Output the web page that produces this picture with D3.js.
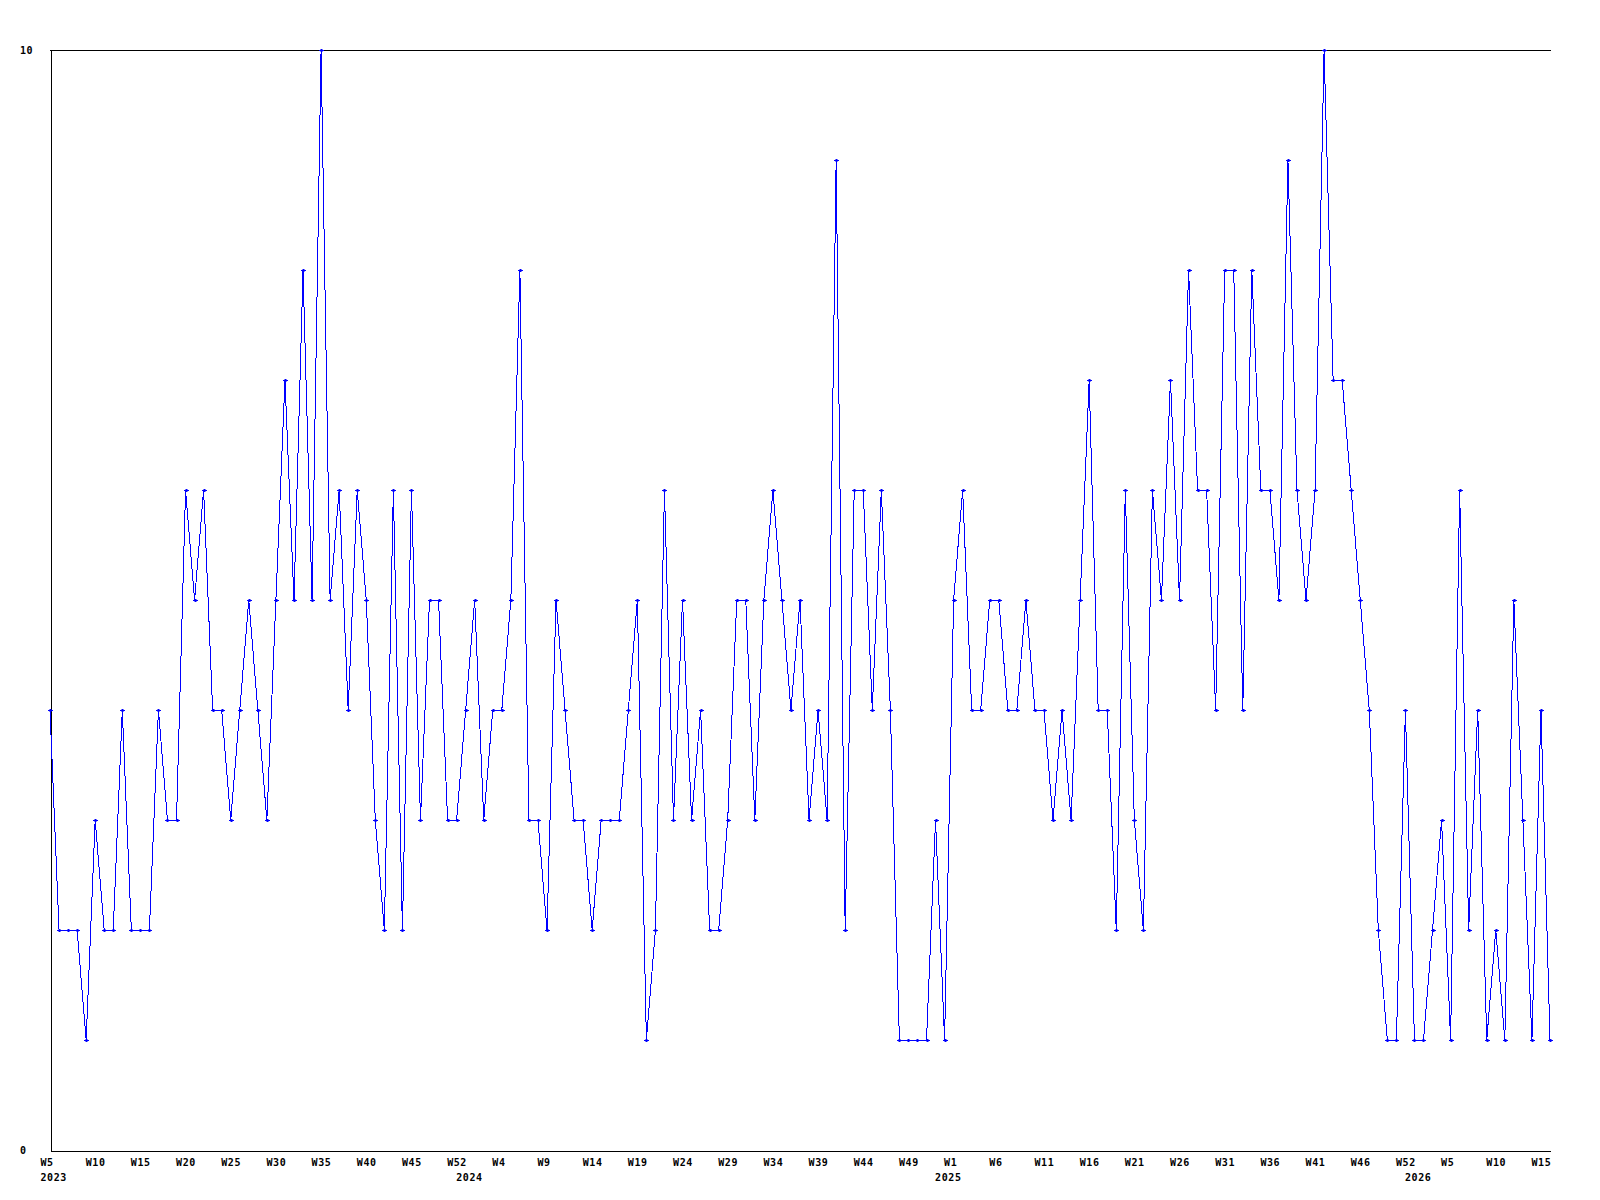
<!DOCTYPE html>
<html>
<head>
<meta charset="utf-8">
<script src="https://cdn.jsdelivr.net/npm/d3@7"></script>
<style>
  html, body { margin: 0; padding: 0; background: #ffffff; }
  svg { display: block; }
  .lbl { font-family: "DejaVu Sans Mono", monospace; font-weight: bold; font-size: 10px; letter-spacing: 0.6px; fill: #000; }
</style>
</head>
<body>
<svg id="chart" width="1600" height="1200"></svg>
<script>
// Weekly values, one per point (first point = 2023 W5)
const values2023 = [4,2,2,2,1,3,2,2,4,2,2,2,4,3,3,6,5,6,4,4,3,4,5,4,3,5,7,5,8,5,10,5,6,4,6,5,3,2,6,2,6,3,5,5,3,3];
const values2024 = [4,5,3,4,4,5,8,3,3,2,5,4,3,3,2,3,3,3,4,5,1,2,6,3,5,3,4,2,2,3,5,5,3,5,6,5,4,5,3,4,3,9,2,6,6,4,6,4,1,1,1,1,3];
const values2025 = [1,5,6,4,4,5,5,4,4,5,4,4,3,4,3,5,7,4,4,2,6,3,2,6,5,7,5,8,6,6,4,8,8,4,8,6,6,5,9,6,5,6,10,7,7,6,5,4,2,1,1,4];
const values2026 = [1,1,2,3,1,6,2,4,1,2,1,5,3,1,4,1];
const values = [].concat(values2023, values2024, values2025, values2026);

// Week tick labels (every fifth point) and year labels, keyed by point index
const weekTickIndex = [0,5,10,15,20,25,30,35,40,45,50,55,60,65,70,75,80,85,90,95,100,105,110,115,120,125,130,135,140,145,150,155,160,165];
const weekTickText  = ["W5","W10","W15","W20","W25","W30","W35","W40","W45","W52","W4","W9","W14","W19","W24","W29","W34","W39","W44","W49","W1","W6","W11","W16","W21","W26","W31","W36","W41","W46","W52","W5","W10","W15"];
const yearIndex = [0, 46, 99, 151];
const yearText  = ["2023","2024","2025","2026"];
const yTicks = [0, 10];

const svg = d3.select("#chart");
const plotL = 50, plotR = 1550, plotT = 50, plotB = 1150;

const x = d3.scaleLinear().domain([0, values.length - 1]).range([plotL, plotR]);
const y = d3.scaleLinear().domain([0, 10]).range([plotB, plotT]);

// top border line
svg.append("line")
  .attr("x1", x.range()[0]).attr("x2", x.range()[1] + 1)
  .attr("y1", y(10) + 0.5).attr("y2", y(10) + 0.5)
  .attr("stroke", "#000").attr("stroke-width", 1);

// bottom axis
const xAxis = d3.axisBottom(x)
  .tickValues(weekTickIndex)
  .tickFormat((d, i) => weekTickText[i])
  .tickSizeInner(0).tickSizeOuter(0);
const gx = svg.append("g").attr("transform", `translate(0.5,${plotB + 0.5})`).call(xAxis);
gx.attr("font-family", null).attr("font-size", null);
gx.select(".domain").attr("stroke", "#000").attr("shape-rendering", "crispEdges");
gx.selectAll(".tick text")
  .attr("class", "lbl")
  .attr("text-anchor", "start")
  .attr("x", -10.5).attr("y", 15).attr("dy", null);

// year labels
const yearAxis = d3.axisBottom(x)
  .tickValues(yearIndex)
  .tickFormat((d, i) => yearText[i])
  .tickSizeInner(0).tickSizeOuter(0);
const gyear = svg.append("g").attr("transform", `translate(0.5,${plotB + 0.5})`).call(yearAxis);
gyear.select(".domain").remove();
gyear.attr("font-family", null).attr("font-size", null);
gyear.selectAll(".tick text")
  .attr("class", "lbl")
  .attr("text-anchor", "start")
  .attr("x", -10.5).attr("y", 30).attr("dy", null);

// left axis
const yAxis = d3.axisLeft(y).tickValues(yTicks).tickFormat(d3.format("d"))
  .tickSizeInner(0).tickSizeOuter(0);
const gy = svg.append("g").attr("transform", `translate(${plotL + 0.5},0.5)`).call(yAxis);
gy.attr("font-family", null).attr("font-size", null);
gy.select(".domain").attr("stroke", "#000").attr("shape-rendering", "crispEdges");
gy.selectAll(".tick text")
  .attr("class", "lbl")
  .attr("text-anchor", "start")
  .attr("x", 20 - plotL - 0.5).attr("dy", "0.32em");

// data line
const line = d3.line().x((d, i) => x(i)).y(d => y(d));
svg.append("path")
  .datum(values)
  .attr("d", line)
  .attr("fill", "none")
  .attr("stroke", "#0000ff")
  .attr("stroke-width", 1)
  .attr("shape-rendering", "crispEdges");

// point markers
const marks = svg.append("g").attr("fill", "#0000ff");
marks.selectAll("rect.h").data(values).join("rect")
  .attr("class", "h")
  .attr("x", (d, i) => Math.round(x(i)) - 2)
  .attr("y", d => Math.round(y(d)))
  .attr("width", 5).attr("height", 1);
marks.selectAll("rect.v").data(values).join("rect")
  .attr("class", "v")
  .attr("x", (d, i) => Math.round(x(i)) - 0.5)
  .attr("y", d => Math.round(y(d)) - 1)
  .attr("width", 2).attr("height", 3);
</script>
</body>
</html>
